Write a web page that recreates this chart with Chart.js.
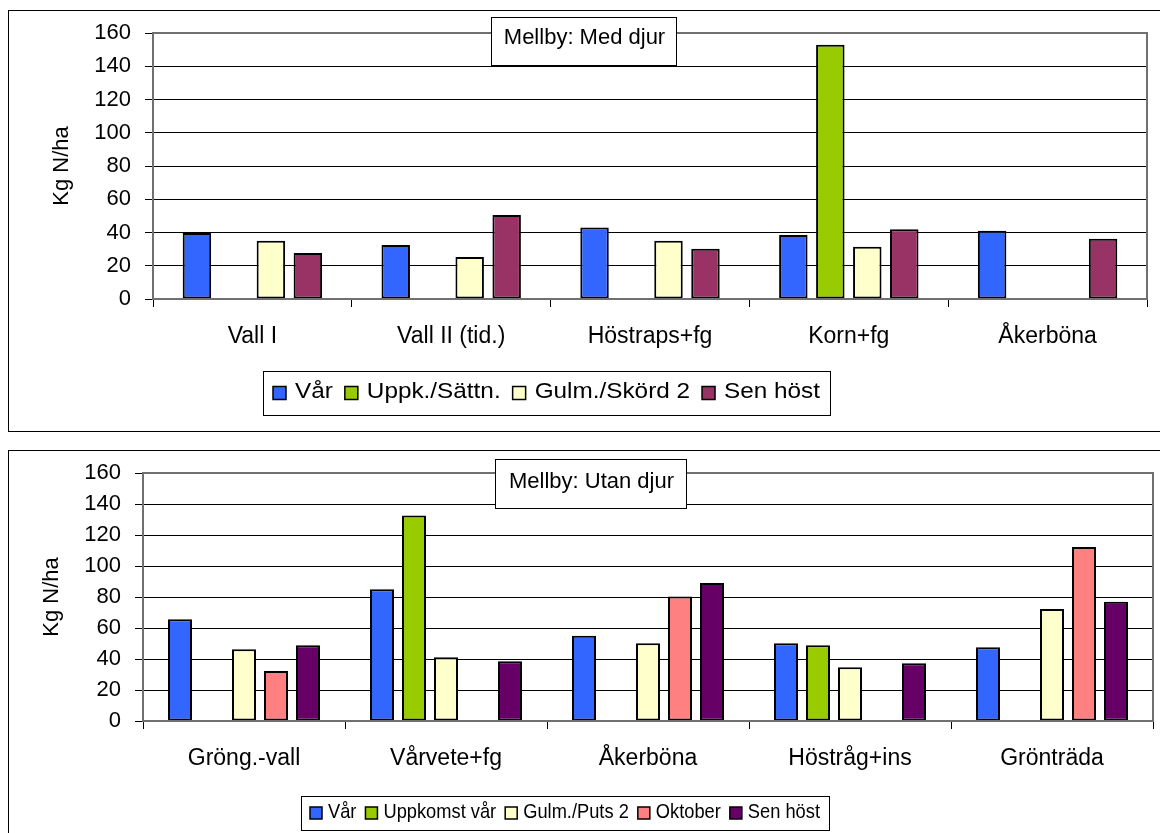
<!DOCTYPE html>
<html>
<head>
<meta charset="utf-8">
<script src="https://cdn.jsdelivr.net/npm/chart.js@4/dist/chart.umd.min.js"></script>
<style>
  html, body { margin: 0; padding: 0; background: #fff; width: 1160px; height: 833px; overflow: hidden; }
  .wrap { position: absolute; left: 0; width: 1160px; }
  #w1 { top: 0; height: 440px; }
  #w2 { top: 440px; height: 393px; }
  canvas { display: block; }
</style>
</head>
<body>
<div class="wrap" id="w1"><canvas id="c1"></canvas></div>
<div class="wrap" id="w2"><canvas id="c2"></canvas></div>
<script>
const FONT = "'Liberation Sans', Arial, Helvetica, sans-serif";

// Kg N/ha axis ticks
const yTicks = [0, 20, 40, 60, 80, 100, 120, 140, 160];

// Mellby: Med djur
const cropsWith = ['Vall I', 'Vall II (tid.)', 'Höstraps+fg', 'Korn+fg', 'Åkerböna'];
const seriesWith = ['Vår', 'Uppk./Sättn.', 'Gulm./Skörd 2', 'Sen höst'];
const withVar  = [39.7, 32.5, 43, 38.5, 41];
const withUppk = [null, null, null, 153, null];
const withGulm = [35, 25.3, 35, 31.5, null];
const withSen  = [27.7, 50.5, 30.2, 42, 36.3];

// Mellby: Utan djur
const cropsWithout = ['Gröng.-vall', 'Vårvete+fg', 'Åkerböna', 'Höstråg+ins', 'Grönträda'];
const seriesWithout = ['Vår', 'Uppkomst vår', 'Gulm./Puts 2', 'Oktober', 'Sen höst'];
const withoutVar  = [65.7, 85, 55, 50.2, 47.6];
const withoutUppk = [null, 132.6, null, 48.9, null];
const withoutGulm = [46.3, 41.1, 50.2, 34.7, 72.2];
const withoutOkt  = [32.3, null, 80.3, null, 112.2];
const withoutSen  = [48.9, 38.5, 89, 37.3, 77];

const COLORS = {
  blue: '#3366FF', green: '#99CC00', cream: '#FFFFCC',
  maroon: '#993366', salmon: '#FF8080', plum: '#660066'
};

function bar(label, data, color) {
  return { label, data, backgroundColor: color, borderColor: '#000', borderWidth: 2, borderSkipped: false };
}

// frame, boxed title, plot border and boxed legend
const decor = {
  id: 'decor',
  beforeDraw(chart, args, o) {
    const ctx = chart.ctx;
    ctx.save();
    ctx.fillStyle = '#fff';
    ctx.fillRect(0, 0, chart.width, chart.height);
    ctx.strokeStyle = '#000';
    ctx.lineWidth = 1;
    ctx.strokeRect(o.frame[0] + 0.5, o.frame[1] + 0.5, o.frame[2], o.frame[3]);
    ctx.restore();
  },
  afterDraw(chart, args, o) {
    const ctx = chart.ctx, a = chart.chartArea;
    ctx.save();
    ctx.strokeStyle = '#707070';
    ctx.lineWidth = 2;
    ctx.strokeRect(a.left, a.top, a.right - a.left, a.bottom - a.top);

    // title box
    const t = o.title;
    ctx.fillStyle = '#fff';
    ctx.fillRect(t.x, t.y, t.w, t.h);
    ctx.strokeStyle = '#000';
    ctx.lineWidth = 1;
    ctx.strokeRect(t.x + 0.5, t.y + 0.5, t.w, t.h);
    ctx.fillStyle = '#000';
    ctx.font = t.size + 'px ' + FONT;
    ctx.textAlign = 'center';
    ctx.textBaseline = 'middle';
    ctx.fillText(t.text, t.x + t.w / 2 + 1, t.y + t.h / 2 + t.dy);

    // legend box
    const L = o.legend;
    const sets = chart.data.datasets;
    ctx.font = L.size + 'px ' + FONT;
    const widths = sets.map(d => ctx.measureText(d.label).width);
    const textTotal = widths.reduce((s, w) => s + w, 0);
    const avail = (L.x1 - L.x0) - 2 * L.pad - sets.length * (L.marker + L.gap) - (sets.length - 1) * L.sep;
    const sx = avail / textTotal;
    ctx.fillStyle = '#fff';
    ctx.fillRect(L.x0, L.y0, L.x1 - L.x0, L.y1 - L.y0);
    ctx.strokeStyle = '#000';
    ctx.lineWidth = 1;
    ctx.strokeRect(L.x0 + 0.5, L.y0 + 0.5, L.x1 - L.x0, L.y1 - L.y0);
    let x = L.x0 + L.pad;
    const cy = (L.y0 + L.y1) / 2;
    sets.forEach((d, i) => {
      ctx.fillStyle = d.backgroundColor;
      ctx.fillRect(x, cy - L.marker / 2 + L.my, L.marker, L.marker);
      ctx.strokeStyle = '#000';
      ctx.lineWidth = 1.5;
      ctx.strokeRect(x, cy - L.marker / 2 + L.my, L.marker, L.marker);
      x += L.marker + L.gap;
      ctx.save();
      ctx.translate(x, cy + L.dy);
      ctx.scale(sx, 1);
      ctx.fillStyle = '#000';
      ctx.textAlign = 'left';
      ctx.textBaseline = 'middle';
      ctx.fillText(d.label, 0, 0);
      ctx.restore();
      x += widths[i] * sx + L.sep;
    });
    ctx.restore();
  }
};

function options(cfg) {
  return {
    responsive: true,
    maintainAspectRatio: false,
    animation: false,
    events: [],
    layout: { padding: cfg.padding },
    datasets: { bar: { categoryPercentage: cfg.catPct, barPercentage: cfg.barPct } },
    plugins: {
      legend: { display: false },
      tooltip: { enabled: false },
      decor: cfg.decor
    },
    scales: {
      x: {
        grid: { display: true, drawOnChartArea: false, drawTicks: true, tickLength: 8, color: '#000', offset: true },
        border: { display: false },
        ticks: { color: '#000', font: { family: FONT, size: 23 }, padding: 16, maxRotation: 0, autoSkip: false },
        afterFit(s) { s.height = cfg.xHeight; }
      },
      y: {
        min: 0, max: 160,
        afterBuildTicks(s) { s.ticks = yTicks.map(v => ({ value: v })); },
        grid: { color: '#000', lineWidth: 1, tickLength: 8 },
        border: { display: false },
        ticks: { color: '#000', font: { family: FONT, size: 22 }, padding: 14 },
        title: { display: true, text: 'Kg N/ha', color: '#000', font: { family: FONT, size: 22, lineHeight: 1.2 }, padding: { top: 0, bottom: 0 } },
        afterFit(s) { s.width = cfg.yWidth; }
      }
    }
  };
}

new Chart(document.getElementById('c1'), {
  type: 'bar',
  data: {
    labels: cropsWith,
    datasets: [
      bar(seriesWith[0], withVar, COLORS.blue),
      bar(seriesWith[1], withUppk, COLORS.green),
      bar(seriesWith[2], withGulm, COLORS.cream),
      bar(seriesWith[3], withSen, COLORS.maroon)
    ]
  },
  options: options({
    padding: { left: 49, right: 13, top: 33, bottom: 0 },
    yWidth: 104,
    xHeight: 141,
    catPct: 0.744, barPct: 0.77,
    decor: {
      frame: [8, 10, 1200, 421],
      title: { text: 'Mellby: Med djur', x: 491, y: 17, w: 185, h: 48, size: 22, dy: -3 },
      legend: { x0: 263, x1: 830, y0: 371, y1: 415, size: 22, marker: 13, gap: 9, sep: 12, pad: 10, dy: -1, my: 0 }
    }
  }),
  plugins: [decor]
});

new Chart(document.getElementById('c2'), {
  type: 'bar',
  data: {
    labels: cropsWithout,
    datasets: [
      bar(seriesWithout[0], withoutVar, COLORS.blue),
      bar(seriesWithout[1], withoutUppk, COLORS.green),
      bar(seriesWithout[2], withoutGulm, COLORS.cream),
      bar(seriesWithout[3], withoutOkt, COLORS.salmon),
      bar(seriesWithout[4], withoutSen, COLORS.plum)
    ]
  },
  options: options({
    padding: { left: 39, right: 7, top: 33, bottom: 0 },
    yWidth: 104,
    xHeight: 112,
    catPct: 0.792, barPct: 0.75,
    decor: {
      frame: [8, 10, 1200, 500],
      title: { text: 'Mellby: Utan djur', x: 495, y: 19, w: 191, h: 49, size: 22, dy: -2 },
      legend: { x0: 301, x1: 829, y0: 356, y1: 390, size: 21, marker: 12, gap: 6, sep: 9, pad: 9, dy: -1, my: 0 }
    }
  }),
  plugins: [decor]
});
</script>
</body>
</html>
